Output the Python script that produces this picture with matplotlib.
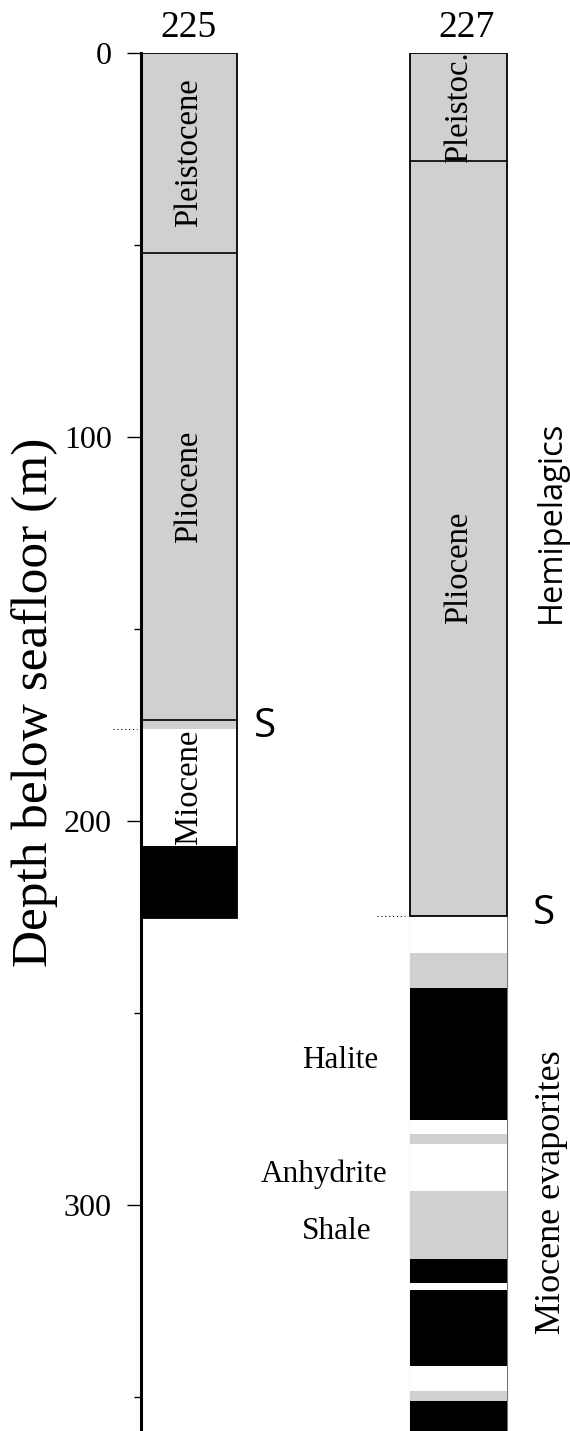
import matplotlib.pyplot as plt
from matplotlib.patches import Rectangle

# Site 225 lithologic column (depths in m below seafloor)
site225_tops = [0.0, 52.1, 173.7, 176.0, 206.5]
site225_bottoms = [52.1, 173.7, 176.0, 206.5, 225.3]
site225_fill = ['gray', 'gray', 'gray', 'white', 'black']
site225_labels = ['Pleistocene', 'Pliocene', '', 'Miocene', '']
site225_contacts = [52.1, 173.7]
site225_s = 176.0

# Site 227 lithologic column
site227_tops = [0.0, 28.1, 224.7, 234.4, 243.5, 277.9, 281.5, 284.1,
                296.4, 314.0, 320.3, 322.1, 342.0, 348.4, 351.0]
site227_bottoms = [28.1, 224.7, 234.4, 243.5, 277.9, 281.5, 284.1, 296.4,
                   314.0, 320.3, 322.1, 342.0, 348.4, 351.0, 359.0]
site227_fill = ['gray', 'gray', 'white', 'gray', 'black', 'white', 'gray',
                'white', 'gray', 'black', 'white', 'black', 'white', 'gray',
                'black']
site227_labels = ['Pleistoc.', 'Pliocene'] + [''] * 13
site227_label_depth = [14.0, 134.0]
site227_contacts = [28.1]
site227_s = 224.7

lith_names = ['Halite', 'Anhydrite', 'Shale']
lith_depths = [264.3, 294.0, 309.0]

colors = {'gray': '#d0d0d0', 'white': 'white', 'black': 'black'}
serif = 'Liberation Serif'
sans = 'Open Sans'

fig = plt.figure(figsize=(5.7, 14.31), dpi=100)
ax = fig.add_axes([141 / 570, 0, 429 / 570, 1378 / 1431])
ax.set_xlim(0, 429)
ax.set_ylim(358.9, 0)

# column x positions (layout)
c225 = (0, 96)
c227 = (269, 366)

def draw_column(x, tops, bottoms, fills):
    for t, b, f in zip(tops, bottoms, fills):
        ax.add_patch(Rectangle((x[0], t), x[1] - x[0], b - t,
                               facecolor=colors[f], edgecolor='none', zorder=1))

draw_column(c225, site225_tops, site225_bottoms, site225_fill)
draw_column(c227, site227_tops, site227_bottoms, site227_fill)

# outlines
ax.add_patch(Rectangle((c225[0], 0), c225[1] - c225[0], site225_bottoms[-1],
                       facecolor='none', edgecolor='black', lw=1.3, zorder=2))
ax.add_patch(Rectangle((c227[0], 0), c227[1] - c227[0], site227_s,
                       facecolor='none', edgecolor='black', lw=1.3, zorder=2))
ax.vlines([c227[0], c227[1]], site227_s, site227_bottoms[-1], color='0.45',
          lw=0.8, zorder=0.5)
ax.hlines(site225_contacts, c225[0], c225[1], color='black', lw=1.2, zorder=2)
ax.hlines(site227_contacts, c227[0], c227[1], color='black', lw=1.2, zorder=2)

# unit labels inside columns
for t, b, lab in zip(site225_tops, site225_bottoms, site225_labels):
    if lab:
        ax.text(sum(c225) / 2, (t + b) / 2, lab, rotation=90, ha='center',
                va='center', rotation_mode='anchor', family=serif, fontsize=23.5,
                zorder=3)
for lab, d in zip(site227_labels, site227_label_depth):
    ax.text(sum(c227) / 2, d, lab, rotation=90, ha='center', va='center',
            rotation_mode='anchor', family=serif, fontsize=23.5, zorder=3)

# S reflector markers
ax.hlines(site225_s, -28, -4, color='black', lw=0.8, linestyles=(0, (1, 2.5)),
          clip_on=False)
ax.hlines(site227_s, 236, 264, color='black', lw=0.8, linestyles=(0, (1, 2.5)))
ax.text(124, site225_s - 0.5, 'S', ha='center', va='center', family=sans,
        fontsize=29)
ax.text(403, site227_s - 0.5, 'S', ha='center', va='center', family=sans,
        fontsize=29)

# lithology labels
for name, d, xc in zip(lith_names, lith_depths, [199, 183, 196]):
    ax.text(xc, d, name, ha='center', va='baseline', family=serif, fontsize=22.5)

# site titles
ax.text(48, -4.2, '225', ha='center', va='baseline', family=serif,
        fontsize=27, clip_on=False)
ax.text(326, -4.2, '227', ha='center', va='baseline', family=serif,
        fontsize=27, clip_on=False)

# right-hand annotations
ax.text(410, 122, 'Hemipelagics', rotation=90, ha='center', va='center',
        rotation_mode='anchor', family=sans, fontsize=23.5)
ax.text(411, 296.6, 'Miocene evaporites', rotation=90, ha='center',
        va='center', rotation_mode='anchor', family=serif, fontsize=26)

# depth axis
ax.text(-106, 169, 'Depth below seafloor (m)', rotation=90, ha='center',
        va='center', rotation_mode='anchor', family=serif, fontsize=37,
        clip_on=False)
for s in ['top', 'right', 'bottom']:
    ax.spines[s].set_visible(False)
ax.spines['left'].set_linewidth(2.2)
ax.set_yticks([0, 100, 200, 300])
ax.set_yticks([50, 150, 250, 350], minor=True)
ax.tick_params(axis='y', which='major', length=10, width=1, pad=11,
               labelsize=23)
ax.tick_params(axis='y', which='minor', length=5, width=1)
for lbl in ax.get_yticklabels():
    lbl.set_family(serif)
ax.set_xticks([])

fig.savefig('out.png', dpi=100)
